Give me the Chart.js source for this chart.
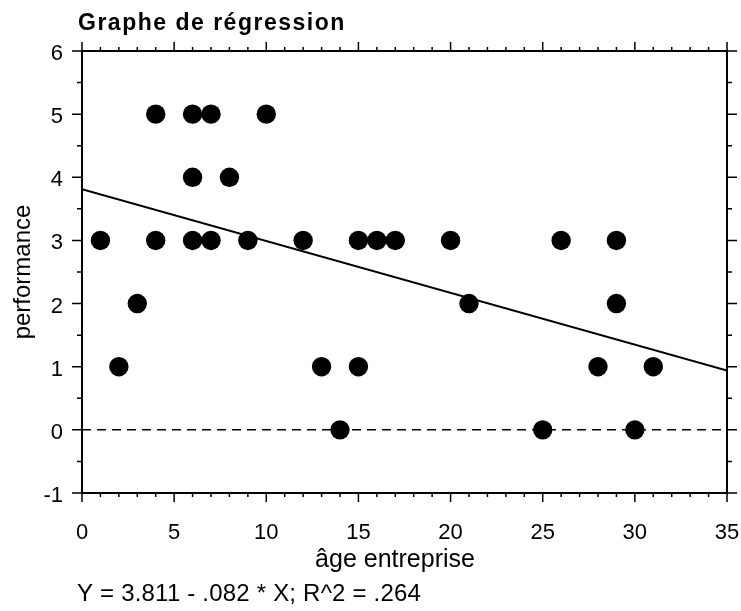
<!DOCTYPE html>
<html lang="fr">
<head>
<meta charset="utf-8">
<title>Graphe de régression</title>
<script src="https://cdn.jsdelivr.net/npm/chart.js@4.4.1/dist/chart.umd.min.js"></script>
<style>
  html, body { margin: 0; padding: 0; background: #fff; }
  canvas { display: block; }
</style>
</head>
<body>
<canvas id="chart" width="741" height="611"></canvas>
<script>
// âge de l'entreprise (années) et performance observée
const ageEntreprise = [4, 6, 7, 10, 6, 8, 1, 4, 6, 7, 9, 12, 15, 16, 17, 20, 26, 29, 3, 21, 29, 2, 13, 15, 28, 31, 14, 25, 30];
const performance   = [5, 5, 5, 5, 4, 4, 3, 3, 3, 3, 3, 3, 3, 3, 3, 3, 3, 3, 2, 2, 2, 1, 1, 1, 1, 1, 0, 0, 0];

// droite de régression Y = a + b * X
const intercept = 3.811;
const slope = -0.082;
const rSquared = 0.264;

const xTicks = [0, 5, 10, 15, 20, 25, 30, 35];
const yTicks = [-1, 0, 1, 2, 3, 4, 5, 6];

const FONT = "'Liberation Sans', Arial, sans-serif";
const fmt = v => Math.abs(v).toFixed(3).replace(/^0/, '');
const equation = `Y = ${intercept.toFixed(3)} - ${fmt(slope)} * X; R^2 = ${fmt(rSquared)}`;

const xMin = xTicks[0], xMax = xTicks[xTicks.length - 1];
const points = ageEntreprise.map((x, i) => ({ x, y: performance[i] }));
const fitLine = [xMin, xMax].map(x => ({ x, y: intercept + slope * x }));
const zeroLine = [{ x: xMin, y: 0 }, { x: xMax, y: 0 }];

// cadre, graduations majeures/mineures et textes
const cadre = {
  id: 'cadre',
  afterDatasetsDraw(chart) {
    const { ctx, chartArea: a, scales: { x, y } } = chart;
    ctx.save();
    ctx.strokeStyle = '#000';
    ctx.lineWidth = 2;
    ctx.strokeRect(a.left, a.top, a.right - a.left, a.bottom - a.top);
    ctx.lineWidth = 1.5;
    ctx.beginPath();
    for (let v = x.min; v <= x.max; v += 1) {
      const px = x.getPixelForValue(v);
      const len = v % 5 === 0 ? 9 : 4;
      ctx.moveTo(px, a.bottom); ctx.lineTo(px, a.bottom + len);
      ctx.moveTo(px, a.top); ctx.lineTo(px, a.top - len);
    }
    for (let v = y.min; v <= y.max; v += 0.5) {
      const py = y.getPixelForValue(v);
      const len = Number.isInteger(v) ? 10 : 5;
      ctx.moveTo(a.left, py); ctx.lineTo(a.left - len, py);
      ctx.moveTo(a.right, py); ctx.lineTo(a.right + len, py);
    }
    ctx.stroke();
    ctx.restore();
  },
  afterDraw(chart) {
    const { ctx } = chart;
    ctx.save();
    ctx.fillStyle = '#000';
    ctx.textBaseline = 'alphabetic';
    ctx.textAlign = 'left';
    ctx.font = `bold 23px ${FONT}`;
    ctx.letterSpacing = '1.5px';
    ctx.fillText('Graphe de régression', 78, 30);
    ctx.letterSpacing = '0px';
    ctx.font = `25px ${FONT}`;
    ctx.textAlign = 'center';
    ctx.fillText('âge entreprise', 395, 567);
    ctx.font = `24px ${FONT}`;
    ctx.textAlign = 'left';
    ctx.letterSpacing = '0.2px';
    ctx.fillText(equation, 77, 601);
    ctx.restore();
  }
};

new Chart(document.getElementById('chart'), {
  type: 'scatter',
  data: {
    datasets: [
      { data: points, pointRadius: 9.7, pointBackgroundColor: '#000', pointBorderWidth: 0, order: 0 },
      { type: 'line', data: fitLine, borderColor: '#000', borderWidth: 2, pointRadius: 0, order: 1 },
      { type: 'line', data: zeroLine, borderColor: '#000', borderWidth: 1.5, borderDash: [9, 6], pointRadius: 0, order: 2 }
    ]
  },
  options: {
    responsive: false,
    animation: false,
    devicePixelRatio: 1,
    layout: { padding: { top: 51, right: 14, left: 0, bottom: 0 } },
    plugins: { legend: { display: false }, tooltip: { enabled: false } },
    scales: {
      x: {
        type: 'linear', min: xMin, max: xMax,
        grid: { display: false, drawTicks: false }, border: { display: false },
        afterBuildTicks: s => { s.ticks = xTicks.map(value => ({ value })); },
        afterFit: s => { s.height = 118; s.paddingLeft = 0; s.paddingRight = 0; },
        ticks: { color: '#000', font: { family: FONT, size: 22 }, padding: 27, maxRotation: 0 }
      },
      y: {
        type: 'linear', min: yTicks[0], max: yTicks[yTicks.length - 1],
        grid: { display: false, drawTicks: false }, border: { display: false },
        afterBuildTicks: s => { s.ticks = yTicks.map(value => ({ value })); },
        afterFit: s => { s.width = 82; s.paddingTop = 0; s.paddingBottom = 0; },
        title: { display: true, text: 'performance', color: '#000', font: { family: FONT, size: 24 }, padding: { top: 9, bottom: 0 } },
        ticks: { color: '#000', font: { family: FONT, size: 22 }, padding: 19, labelOffset: 3 }
      }
    }
  },
  plugins: [cadre]
});
</script>
</body>
</html>
